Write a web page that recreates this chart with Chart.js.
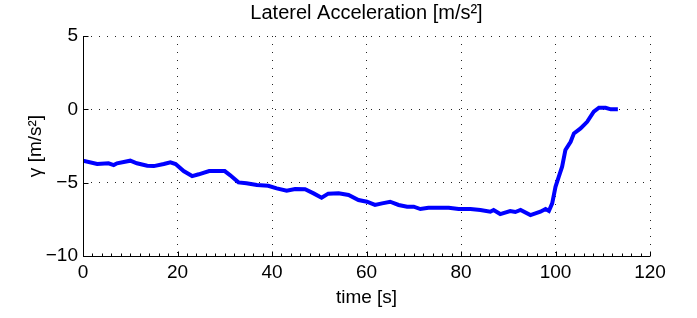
<!DOCTYPE html>
<html>
<head>
<meta charset="utf-8">
<script src="https://cdn.jsdelivr.net/npm/chart.js@4.4.1/dist/chart.umd.min.js"></script>
<style>
html, body { margin: 0; padding: 0; background: #fff; }
#wrap { width: 697px; height: 318px; }
</style>
</head>
<body>
<div id="wrap"><canvas id="accChart" width="697" height="318"></canvas></div>
<script>
// time axis [s]
const timeS = [0, 3.0, 5.4, 6.5, 7.2, 10.0, 11.4, 13.6, 15.0, 17.1,
  18.5, 19.6, 21.3, 23.1, 24.5, 26.7, 30.0, 31.1, 32.9, 34.6,
  36.8, 39.2, 41.0, 43.1, 44.9, 47.0, 48.8, 50.5, 51.9, 54.1,
  56.2, 58.3, 60.1, 61.8, 63.3, 65.0, 66.8, 68.6, 70.0, 71.4,
  73.1, 75.3, 77.4, 79.5, 82.0, 84.1, 86.2, 86.9, 88.3, 90.4,
  91.5, 92.6, 94.7, 96.8, 97.9, 98.6, 99.3, 100.0, 100.7, 101.4,
  102.1, 103.2, 103.9, 105.3, 106.7, 108.1, 109.2, 110.6, 111.7, 113.2];

// lateral acceleration [m/s²]
const accel = [-3.50, -3.73, -3.68, -3.80, -3.68, -3.50, -3.68, -3.84, -3.87, -3.73,
  -3.61, -3.73, -4.21, -4.55, -4.43, -4.21, -4.21, -4.48, -4.98, -5.04,
  -5.16, -5.21, -5.39, -5.55, -5.43, -5.45, -5.73, -6.03, -5.75, -5.73,
  -5.84, -6.18, -6.30, -6.52, -6.41, -6.30, -6.52, -6.64, -6.64, -6.80,
  -6.71, -6.71, -6.71, -6.80, -6.80, -6.86, -6.98, -6.86, -7.14, -6.93,
  -7.00, -6.86, -7.21, -6.98, -6.80, -6.93, -6.41, -5.28, -4.59, -3.91,
  -2.77, -2.21, -1.64, -1.30, -0.85, -0.16, 0.11, 0.11, 0.00, 0.00];

const xTicks = [0, 20, 40, 60, 80, 100, 120];
const yTicks = [-10, -5, 0, 5];
const xMinorStep = 2;

const FONT = '"Liberation Sans", Arial, Helvetica, sans-serif';

// inward tick marks + solid left/bottom axis lines, MATLAB style
const axisTicks = {
  id: 'axisTicks',
  afterDraw(chart) {
    const { ctx, chartArea: a, scales: { x, y } } = chart;
    ctx.save();
    ctx.strokeStyle = '#000';
    ctx.lineWidth = 1;
    ctx.setLineDash([]);
    ctx.beginPath();
    const left = Math.round(a.left) + 0.5, bottom = Math.round(a.bottom) + 0.5;
    ctx.moveTo(left, a.top);
    ctx.lineTo(left, bottom);
    ctx.lineTo(a.right, bottom);
    for (let t = x.min; t <= x.max; t += xMinorStep) {
      const px = Math.round(x.getPixelForValue(t)) + 0.5;
      const len = xTicks.includes(t) ? 5 : 3;
      ctx.moveTo(px, bottom);
      ctx.lineTo(px, bottom - len);
    }
    yTicks.forEach(v => {
      const py = Math.round(y.getPixelForValue(v)) + 0.5;
      ctx.moveTo(left, py);
      ctx.lineTo(left + 5, py);
    });
    ctx.stroke();
    ctx.restore();
  }
};

const ctx = document.getElementById('accChart').getContext('2d');
new Chart(ctx, {
  type: 'line',
  data: {
    datasets: [{
      data: timeS.map((t, i) => ({ x: t, y: accel[i] })),
      borderColor: '#0000ff',
      borderWidth: 4,
      pointRadius: 0,
      tension: 0,
      fill: false
    }]
  },
  options: {
    responsive: false,
    animation: false,
    devicePixelRatio: 1,
    layout: { padding: { left: 0, right: 47, top: 0, bottom: 0 } },
    plugins: {
      legend: { display: false },
      tooltip: { enabled: false },
      title: {
        display: true,
        text: 'Laterel Acceleration [m/s²]',
        color: '#000',
        fullSize: false,
        font: { family: FONT, size: 20, weight: 'normal' },
        padding: { top: 1, bottom: 11 }
      }
    },
    scales: {
      x: {
        type: 'linear',
        min: 0, max: 120,
        afterBuildTicks: s => { s.ticks = xTicks.map(v => ({ value: v })); },
        afterFit: s => { s.height = 62; },
        grid: { color: '#222', lineWidth: 1, drawTicks: false },
        border: { display: false, dash: [1, 7] },
        ticks: { color: '#000', padding: 5, maxRotation: 0, font: { family: FONT, size: 19 } },
        title: {
          display: true, text: 'time [s]', color: '#000',
          font: { family: FONT, size: 19 }, padding: { top: 0, bottom: 9 }
        }
      },
      y: {
        type: 'linear',
        min: -10, max: 5,
        afterBuildTicks: s => { s.ticks = yTicks.map(v => ({ value: v })); },
        afterFit: s => { s.width = 83; },
        grid: { color: '#222', lineWidth: 1, drawTicks: false },
        border: { display: false, dash: [1, 7] },
        ticks: {
          color: '#000', padding: 5, font: { family: FONT, size: 19 },
          callback: v => (v < 0 ? '\u2212' + Math.abs(v) : String(v))
        },
        title: {
          display: true, text: 'γ [m/s²]', color: '#000',
          font: { family: FONT, size: 19 }, padding: { top: 24, bottom: 0 }
        }
      }
    }
  },
  plugins: [axisTicks]
});
</script>
</body>
</html>
